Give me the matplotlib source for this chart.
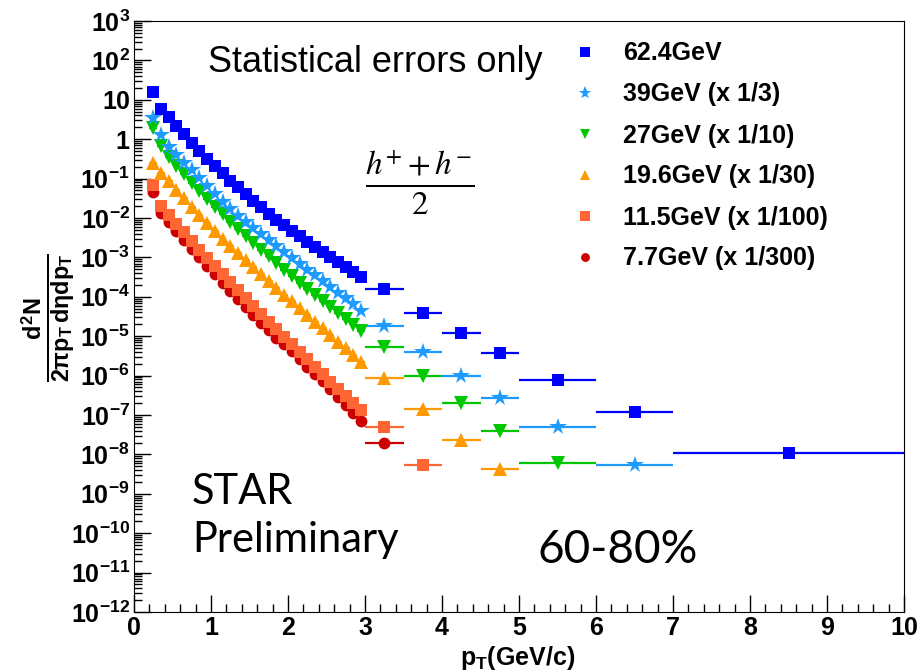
import matplotlib
matplotlib.use('Agg')
import matplotlib.pyplot as plt
from matplotlib.lines import Line2D
from matplotlib.ticker import LogLocator, FixedLocator, MultipleLocator, NullFormatter

plt.rcParams['font.family'] = ['Liberation Sans', 'DejaVu Sans']
plt.rcParams['mathtext.fontset'] = 'custom'
plt.rcParams['mathtext.rm'] = 'Liberation Sans:bold'
plt.rcParams['mathtext.bf'] = 'Liberation Sans:bold'
plt.rcParams['mathtext.it'] = 'Liberation Sans:bold'

# pT bin centres and half widths
pt = [0.25, 0.35, 0.45, 0.55, 0.65, 0.75, 0.85, 0.95, 1.05, 1.15,
      1.25, 1.35, 1.45, 1.55, 1.65, 1.75, 1.85, 1.95, 2.05, 2.15,
      2.25, 2.35, 2.45, 2.55, 2.65, 2.75, 2.85, 2.95,
      3.25, 3.75, 4.25, 4.75, 5.5, 6.5, 8.5]
pt_err = [0.05] * 28 + [0.25, 0.25, 0.25, 0.25, 0.5, 0.5, 1.5]

y624 = [15.5, 6.0, 3.6, 2.2, 1.32, 0.79, 0.50, 0.32, 0.21, 0.138,
        0.087, 0.060, 0.041, 0.027, 0.0186, 0.0129, 0.0091, 0.0066, 0.0047, 0.0034,
        0.0025, 0.0018, 0.00135, 0.0010, 7.6e-4, 5.6e-4, 4.3e-4, 3.2e-4,
        1.6e-4, 3.9e-5, 1.2e-5, 3.7e-6, 7.8e-7, 1.2e-7, 1.1e-8]
y39 = [3.4, 1.29, 0.65, 0.40, 0.25, 0.162, 0.102, 0.066, 0.040, 0.025,
       0.0166, 0.0115, 0.0079, 0.0055, 0.0039, 0.00275, 0.00195, 0.00138, 9.8e-4, 6.9e-4,
       4.9e-4, 3.5e-4, 2.45e-4, 1.78e-4, 1.26e-4, 9.1e-5, 6.5e-5, 4.3e-5,
       1.8e-5, 4.0e-6, 9.8e-7, 2.7e-7, 5.0e-8, 5.4e-9]
y27 = [1.9, 0.68, 0.36, 0.21, 0.129, 0.079, 0.049, 0.031, 0.0195, 0.0123,
       0.0079, 0.0052, 0.0035, 0.0023, 0.00158, 0.00107, 7.2e-4, 4.9e-4, 3.3e-4, 2.3e-4,
       1.58e-4, 1.1e-4, 7.8e-5, 5.5e-5, 3.8e-5, 2.7e-5, 1.9e-5, 1.35e-5,
       5.4e-6, 9.8e-7, 2.0e-7, 3.9e-8, 6.0e-9]
y196 = [0.245, 0.141, 0.089, 0.051, 0.032, 0.0195, 0.012, 0.0076, 0.0047, 0.0030,
        0.00195, 0.00129, 8.5e-4, 5.6e-4, 3.7e-4, 2.5e-4, 1.66e-4, 1.12e-4, 7.6e-5, 5.1e-5,
        3.5e-5, 2.35e-5, 1.58e-5, 1.07e-5, 7.2e-6, 4.9e-6, 3.3e-6, 2.2e-6,
        8.7e-7, 1.4e-7, 2.3e-8, 4.3e-9]
y115 = [0.069, 0.020, 0.012, 0.0072, 0.0043, 0.0026, 0.00158, 9.8e-4, 6.0e-4, 3.7e-4,
        2.35e-4, 1.48e-4, 9.3e-5, 5.9e-5, 3.7e-5, 2.35e-5, 1.48e-5, 9.5e-6, 6.2e-6, 4.0e-6,
        2.6e-6, 1.66e-6, 1.07e-6, 6.9e-7, 4.5e-7, 2.95e-7, 2.0e-7, 1.35e-7,
        5.0e-8, 5.4e-9]
y77 = [0.047, 0.0132, 0.0079, 0.0047, 0.00275, 0.00166, 0.0010, 6.0e-4, 3.7e-4, 2.3e-4,
       1.41e-4, 8.9e-5, 5.6e-5, 3.5e-5, 2.2e-5, 1.41e-5, 9.1e-6, 6.3e-6, 4.1e-6, 2.6e-6,
       1.7e-6, 1.1e-6, 7.1e-7, 4.6e-7, 2.9e-7, 1.8e-7, 1.12e-7, 7.2e-8,
       1.95e-8]

labels = ['62.4GeV', '39GeV (x 1/3)', '27GeV (x 1/10)', '19.6GeV (x 1/30)',
          '11.5GeV (x 1/100)', '7.7GeV (x 1/300)']
series = [y624, y39, y27, y196, y115, y77]
colors = ['#0000FF', '#1E9BFF', '#00C800', '#FF9900', '#FF6633', '#CC0000']
markers = ['s', '*', 'v', '^', 's', 'o']
msizes = [9, 13, 10, 10, 9, 8.5]

fig = plt.figure(figsize=(9.23, 6.72), dpi=100)
ax = fig.add_axes([134 / 923, 1 - 612 / 672, 770 / 923, 591 / 672])

# draw low energies first so higher ones sit on top
for ys, c, m, s in reversed(list(zip(series, colors, markers, msizes))):
    n = len(ys)
    ax.errorbar(pt[:n], ys, xerr=pt_err[:n], fmt=m, color=c, ms=s, mew=0,
                ecolor=c, elinewidth=1.6, capsize=0)

ax.set_yscale('log')
ax.set_xlim(0, 10)
ax.set_ylim(1e-12, 1e3)

ax.xaxis.set_major_locator(MultipleLocator(1))
ax.xaxis.set_minor_locator(MultipleLocator(0.2))
ax.yaxis.set_major_locator(FixedLocator([10.0 ** k for k in range(-12, 4)]))
ax.yaxis.set_minor_locator(LogLocator(base=10, subs=range(2, 10), numticks=100))
ax.yaxis.set_minor_formatter(NullFormatter())
ylabs = []
for k in range(-12, 4):
    if k == 0:
        ylabs.append('1')
    elif k == 1:
        ylabs.append('10')
    else:
        ylabs.append(r'$10^{%d}$' % k)
ax.set_yticklabels(ylabs)
ax.tick_params(which='both', direction='in', top=False, right=False,
               labelsize=18, pad=3)
ax.tick_params(which='major', length=12, width=1)
ax.tick_params(which='minor', length=6, width=1)
for lab in ax.get_xticklabels() + ax.get_yticklabels():
    lab.set_fontweight('bold')

fig.text(518 / 923, 1 - 658 / 672, r'$\mathbf{p_{T}}$(GeV/c)', ha='center', va='center',
         fontsize=18, fontweight='bold')
fig.text(48 / 923, 1 - 318 / 672, r'$\frac{d^{2}N}{2\pi p_{T}\,d\eta dp_{T}}$',
         rotation=90, ha='center', va='center', fontsize=24)

ax.text(208 / 923, 1 - 63 / 672, 'Statistical errors only', transform=fig.transFigure,
        fontsize=26, va='center', ha='left')
ax.text(420 / 923, 1 - 183 / 672, r'$\frac{h^{+}+h^{-}}{2}$', transform=fig.transFigure,
        fontsize=34, ha='center', va='center', math_fontfamily='stix')
ax.text(192 / 923, 1 - 492 / 672, 'STAR', transform=fig.transFigure,
        fontsize=30, family='Lato', va='center', ha='left')
ax.text(192 / 923, 1 - 540 / 672, 'Preliminary', transform=fig.transFigure,
        fontsize=30, family='Lato', va='center', ha='left')
ax.text(538 / 923, 1 - 550 / 672, '60-80%', transform=fig.transFigure,
        fontsize=33, family='Lato', va='center', ha='left')

handles = [Line2D([], [], ls='none', marker=m, color=c, ms=s * 0.75, mew=0)
           for c, m, s in zip(colors, markers, msizes)]
leg = ax.legend(handles, labels, loc='upper left', bbox_to_anchor=(549 / 923, 1 - 19 / 672),
                bbox_transform=fig.transFigure, frameon=False,
                prop={'family': 'Liberation Sans', 'weight': 'bold', 'size': 18},
                labelspacing=0.68, handlelength=1.1, handletextpad=0.95)

fig.savefig('out.png', dpi=100)
